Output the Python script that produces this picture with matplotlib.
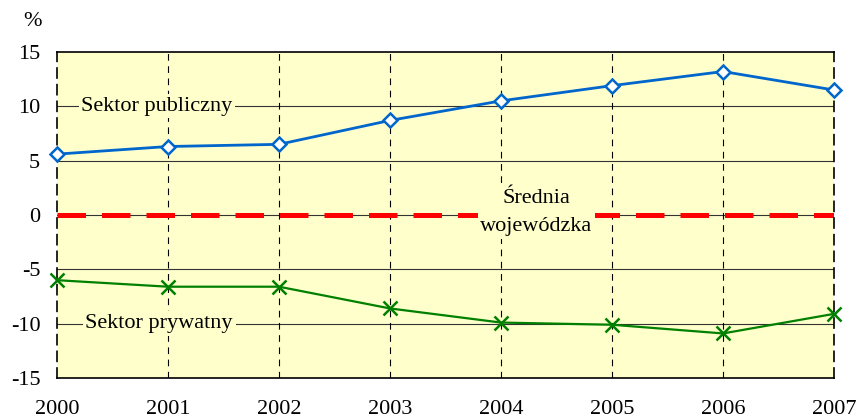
import matplotlib
matplotlib.use("Agg")
import matplotlib.pyplot as plt

years = [2000, 2001, 2002, 2003, 2004, 2005, 2006, 2007]
publiczny = [5.6, 6.3, 6.5, 8.7, 10.5, 11.9, 13.2, 11.5]
prywatny = [-6.0, -6.6, -6.6, -8.6, -9.9, -10.1, -10.9, -9.1]
srednia = [0, 0, 0, 0, 0, 0, 0, 0]
yticks = [-15, -10, -5, 0, 5, 10, 15]

plt.rcParams['font.family'] = ['Liberation Serif', 'DejaVu Serif']

fig = plt.figure(figsize=(8.58, 4.18), dpi=100)
ax = fig.add_axes([0.0664, 0.0957, 0.9056, 0.78])
ax.set_facecolor('#FFFFCC')

ax.set_xlim(years[0], years[-1])
ax.set_ylim(-15, 15)
ax.set_yticks(yticks)
ax.set_yticklabels([str(v) for v in yticks])
ax.set_xticks(years)
ax.set_xticklabels([str(y) for y in years])

for y in yticks[1:-1]:
    ax.axhline(y, color='#333333', lw=0.8, zorder=1)
for x in years[1:-1]:
    ax.axvline(x, color='black', lw=0.8, ls=(0, (6, 5)), zorder=1)

ax.plot(years, srednia, color='#FF0000', lw=3.6, ls=(0, (5.7, 3.2)), zorder=2)
ax.plot(years, publiczny, color='#0066CC', lw=2, marker='D', ms=7,
        mfc='white', mec='#0066CC', mew=1.8, zorder=4, clip_on=False)
ax.plot(years, prywatny, color='#008000', lw=1.6, marker='x', ms=10,
        mec='#008000', mew=1.8, zorder=4, clip_on=False)

bbox = dict(facecolor='#FFFFCC', edgecolor='none', pad=2)
ax.text(2000.9, 10, 'Sektor publiczny', fontsize=16, ha='center', va='center',
        bbox=bbox, zorder=3)
ax.text(2000.92, -10, 'Sektor prywatny', fontsize=16, ha='center', va='center',
        bbox=bbox, zorder=3)
ax.text(2004.32, 0.2, 'Średnia\nwojewódzka', fontsize=16, ha='center', va='center',
        bbox=dict(facecolor='#FFFFCC', edgecolor='none', pad=2),
        linespacing=1.65, zorder=3)

for s in ax.spines.values():
    s.set_color('black')
    s.set_linewidth(1.2)
ax.spines['left'].set_linestyle((0, (6, 4)))
ax.spines['right'].set_linestyle((0, (6, 4)))

ax.tick_params(axis='y', length=0, labelsize=16, pad=12)
ax.tick_params(axis='x', length=0, labelsize=16, pad=15.5)

fig.text(32/858, 1 - 21/418, '%', fontsize=16, ha='center', va='center')

fig.savefig('out.png', dpi=100)
